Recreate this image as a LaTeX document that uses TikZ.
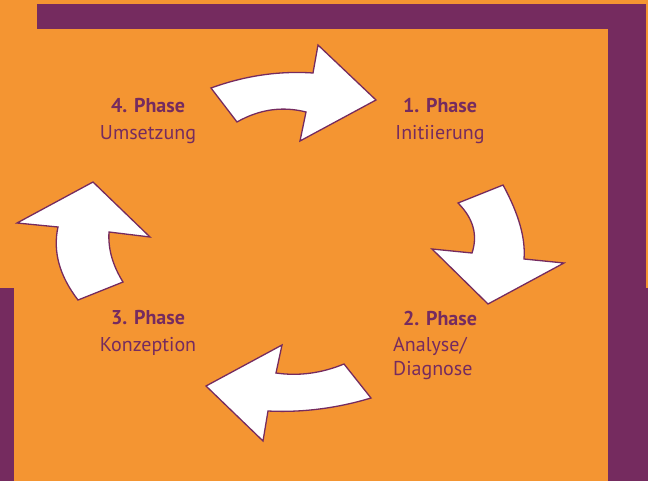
\documentclass[tikz,border=0pt]{standalone}
\usepackage{fontspec}
\setmainfont{PT Sans}
\usepackage{tikz}
\usetikzlibrary{positioning}
\definecolor{lila}{HTML}{752B5F}
\definecolor{orangebg}{HTML}{F49532}

\begin{document}
\begin{tikzpicture}[x=1pt,y=-1pt,
        pfeil/.style={fill=white, draw=lila, line width=1.3pt, line join=miter},
        titel/.style={text=lila, font=\fontsize{20}{24}\selectfont\bfseries, inner sep=0pt},
        untertitel/.style={text=lila, font=\fontsize{20}{24}\selectfont, inner sep=0pt, align=center}]
        \useasboundingbox (0,0) rectangle (648,481);

        % Hintergrund und Rahmen
        \fill[orangebg] (0,0) rectangle (648,481);
        \fill[lila] (37,4) rectangle (646,481);
        \fill[lila] (0,288) rectangle (648,481);
        \fill[orangebg] (14,29) rectangle (608,481);

        % Pfeil oben
        \coordinate (A1) at (211,88);
        \coordinate (A2) at (313,73);
        \coordinate (A3) at (318,45);
        \coordinate (A4) at (376,100);
        \coordinate (A5) at (300,141);
        \coordinate (A6) at (306,112);
        \coordinate (A7) at (237,122);
        \draw[pfeil] (A1) .. controls (245,75.7) and (279,70.7) .. (A2) -- (A3) -- (A4) -- (A5) -- (A6)
                     .. controls (282.3,106) and (259.3,109.3) .. (A7) -- cycle;

        % Pfeil rechts
        \coordinate (B1) at (503,185);
        \coordinate (B2) at (524,259);
        \coordinate (B3) at (564,263);
        \coordinate (B4) at (488,304);
        \coordinate (B5) at (432,249);
        \coordinate (B6) at (472,253);
        \coordinate (B7) at (458,203);
        \draw[pfeil] (B1) .. controls (518.7,213.7) and (525.7,238.3) .. (B2) -- (B3) -- (B4) -- (B5) -- (B6)
                     .. controls (478,235) and (473.3,218.3) .. (B7) -- cycle;

        % Pfeil unten
        \coordinate (C1) at (371,398);
        \coordinate (C2) at (268,411);
        \coordinate (C3) at (263,441);
        \coordinate (C4) at (206,386);
        \coordinate (C5) at (282,345);
        \coordinate (C6) at (276,373);
        \coordinate (C7) at (344,364);
        \draw[pfeil] (C1) .. controls (336.7,408.3) and (302.3,412.7) .. (C2) -- (C3) -- (C4) -- (C5) -- (C6)
                     .. controls (298.7,376.3) and (321.3,373.3) .. (C7) -- cycle;

        % Pfeil links
        \coordinate (D1) at (123,282);
        \coordinate (D2) at (109,232);
        \coordinate (D3) at (150,237);
        \coordinate (D4) at (93,182);
        \coordinate (D5) at (17,223);
        \coordinate (D6) at (58,227);
        \coordinate (D7) at (78,300);
        \draw[pfeil] (D1) .. controls (112.6,265.3) and (107.9,248.7) .. (D2) -- (D3) -- (D4) -- (D5) -- (D6)
                     .. controls (52.7,251.3) and (59.3,275.7) .. (D7) -- cycle;

        % Beschriftung
        \node[titel] (p1) at (440,106) {1. Phase};
        \node[untertitel, below=12pt of p1] (t1) {Initiierung};
        \node[titel] (p2) at (440,318) {2. Phase};
        \node[untertitel, align=left, anchor=north west] (t2) at (393,337) {Analyse/\\Diagnose};
        \node[titel] (p3) at (148,318) {3. Phase};
        \node[untertitel, below=12pt of p3] (t3) {Konzeption};
        \node[titel] (p4) at (148,106) {4. Phase};
        \node[untertitel, below=12pt of p4] (t4) {Umsetzung};
\end{tikzpicture}
\end{document}
